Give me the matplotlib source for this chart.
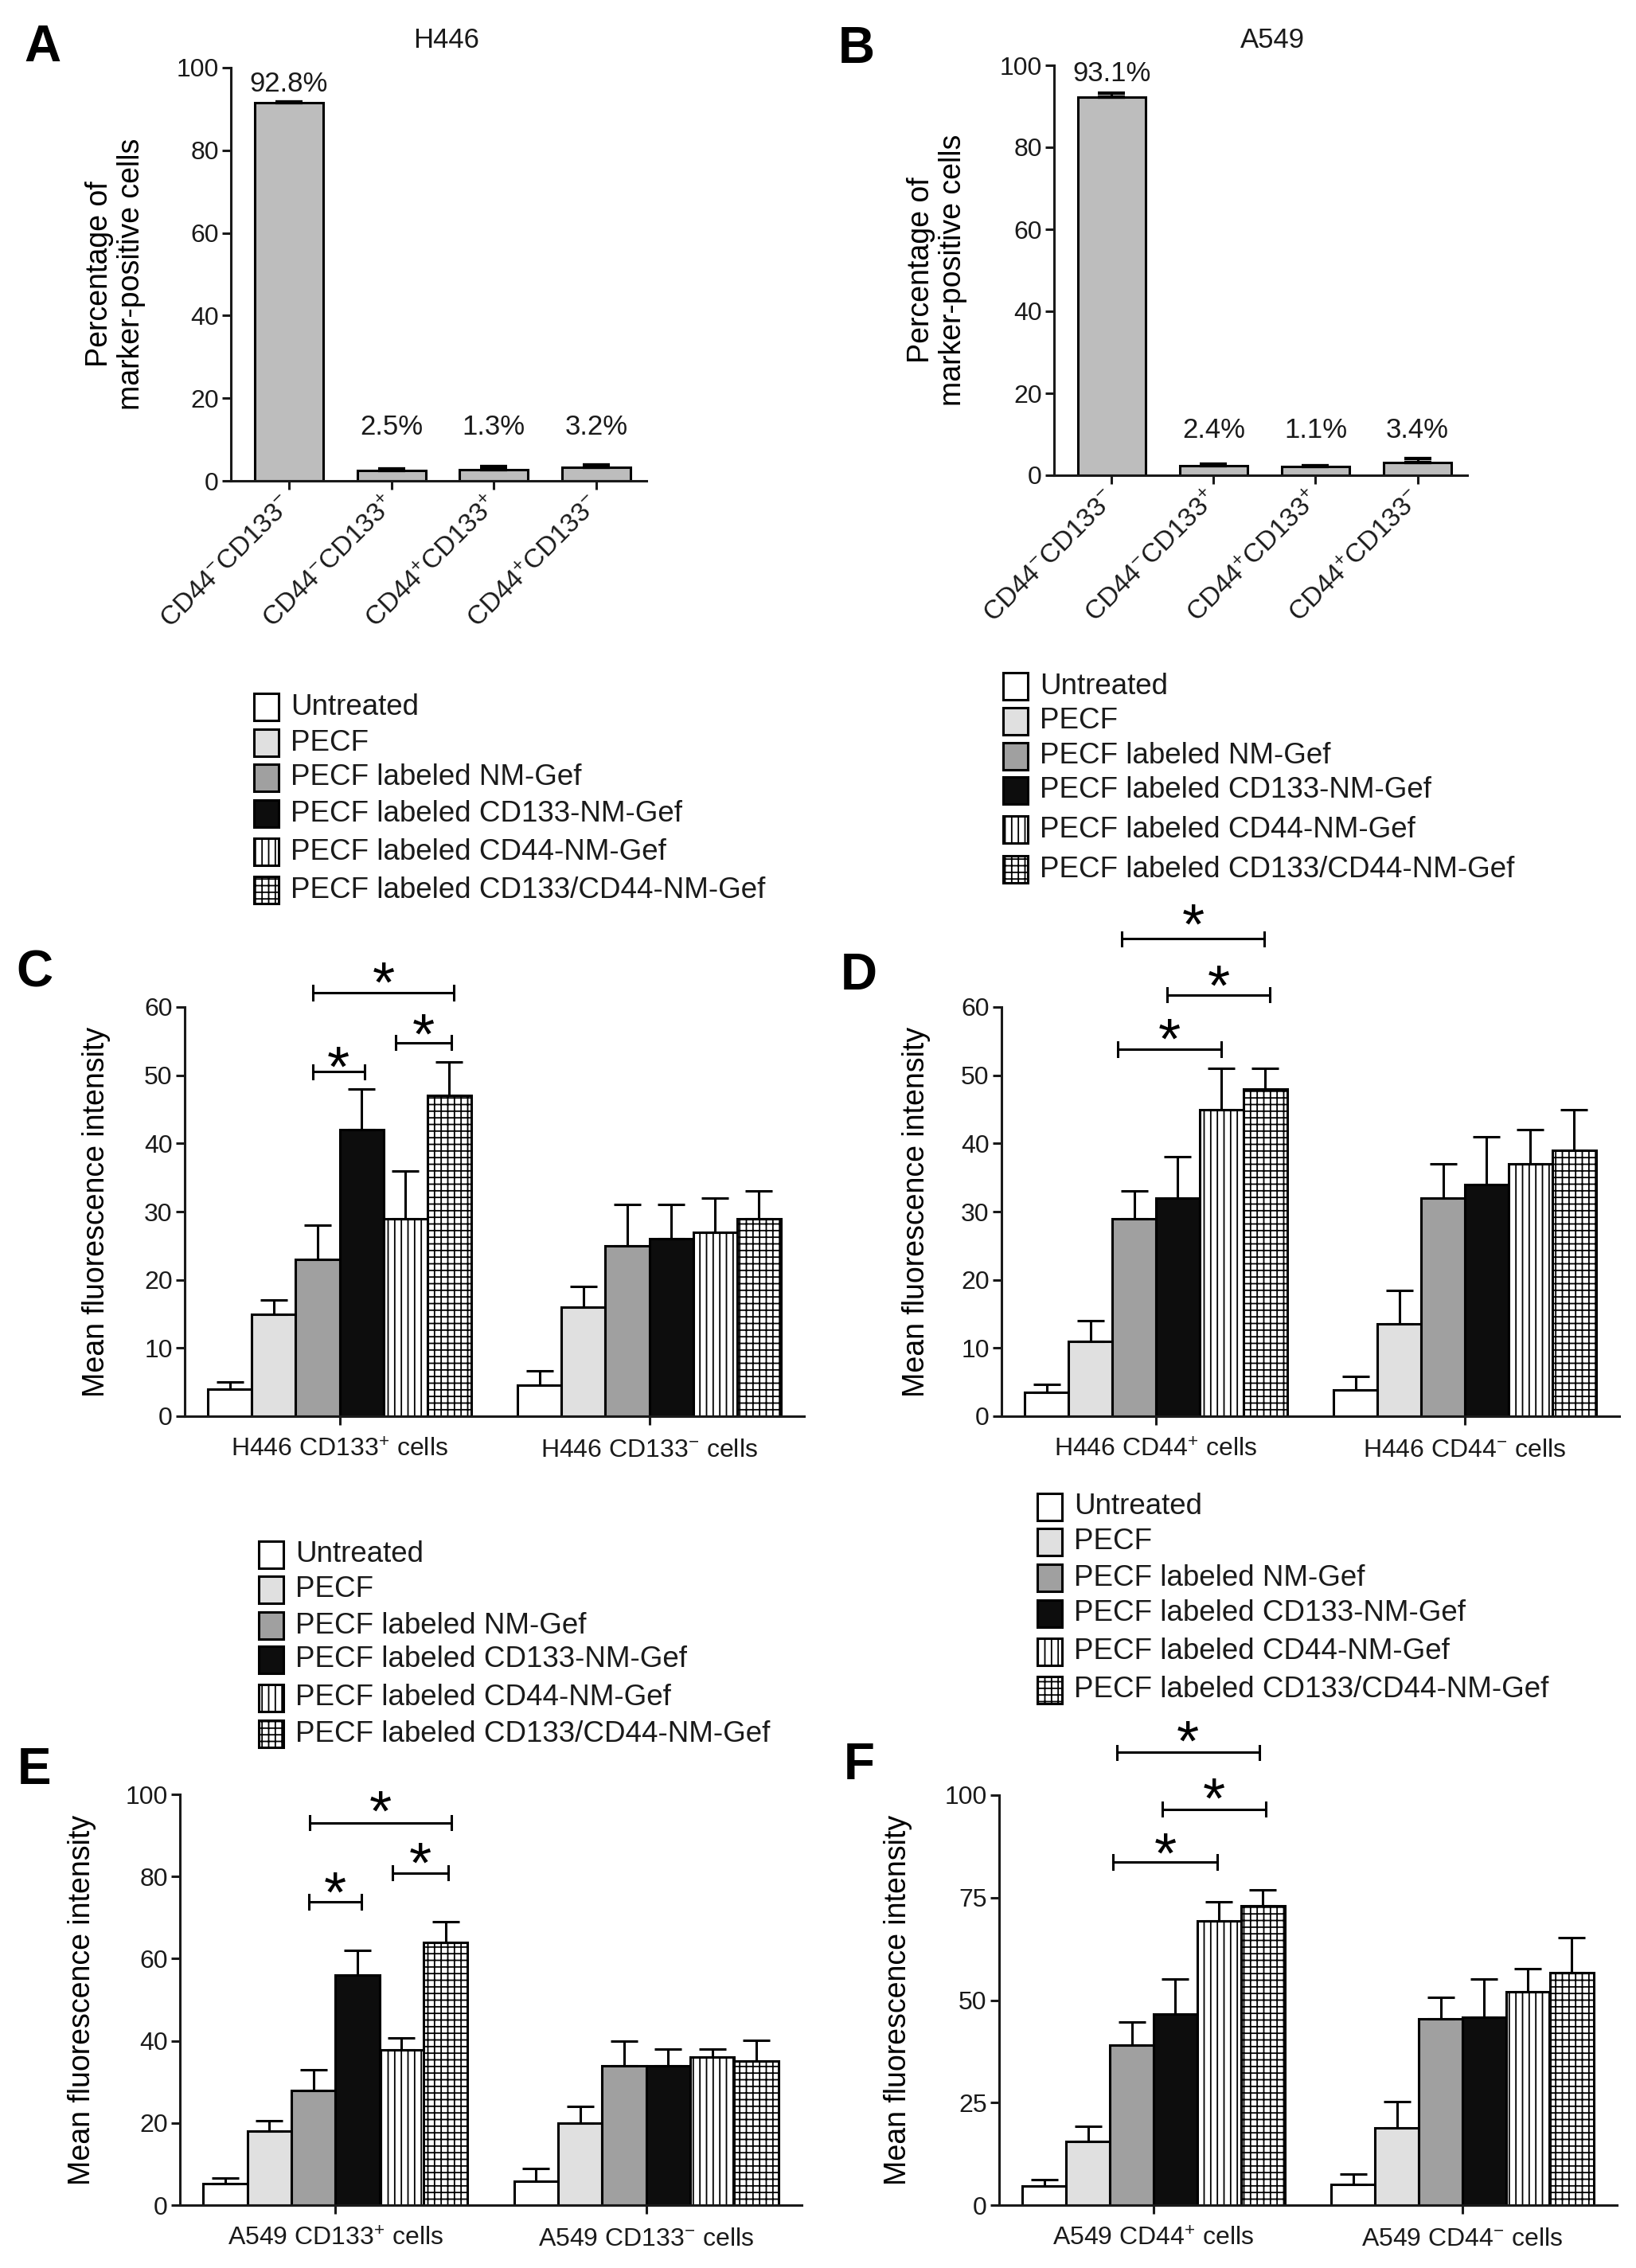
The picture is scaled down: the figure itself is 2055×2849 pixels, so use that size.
import matplotlib
matplotlib.use('Agg')
import matplotlib.pyplot as plt
from matplotlib.patches import Rectangle
import matplotlib.transforms as mtransforms
import numpy as np

# ---------------- data ----------------
marker_categories = [r'CD44$^{-}$CD133$^{-}$', r'CD44$^{-}$CD133$^{+}$',
                     r'CD44$^{+}$CD133$^{+}$', r'CD44$^{+}$CD133$^{-}$']
h446_pct = [91.5, 2.5, 2.7, 3.3]
h446_err = [0.3, 0.3, 0.8, 0.5]
h446_text = ['92.8%', '2.5%', '1.3%', '3.2%']
a549_pct = [92.2, 2.4, 2.1, 3.2]
a549_err = [1.0, 0.4, 0.3, 0.9]
a549_text = ['93.1%', '2.4%', '1.1%', '3.4%']

treatments = ['Untreated', 'PECF', 'PECF labeled NM-Gef', 'PECF labeled CD133-NM-Gef',
              'PECF labeled CD44-NM-Gef', 'PECF labeled CD133/CD44-NM-Gef']

c_groups = [r'H446 CD133$^{+}$ cells', r'H446 CD133$^{-}$ cells']
c_pos_mean = [4.0, 15.0, 23.0, 42.0, 29.0, 47.0]
c_pos_err = [1.0, 2.0, 5.0, 6.0, 7.0, 5.0]
c_neg_mean = [4.5, 16.0, 25.0, 26.0, 27.0, 29.0]
c_neg_err = [2.2, 3.0, 6.0, 5.0, 5.0, 4.0]

d_groups = [r'H446 CD44$^{+}$ cells', r'H446 CD44$^{-}$ cells']
d_pos_mean = [3.5, 11.0, 29.0, 32.0, 45.0, 48.0]
d_pos_err = [1.2, 3.0, 4.0, 6.0, 6.0, 3.0]
d_neg_mean = [3.8, 13.5, 32.0, 34.0, 37.0, 39.0]
d_neg_err = [2.0, 5.0, 5.0, 7.0, 5.0, 6.0]

e_groups = [r'A549 CD133$^{+}$ cells', r'A549 CD133$^{-}$ cells']
e_pos_mean = [5.2, 18.0, 28.0, 56.0, 37.7, 64.0]
e_pos_err = [1.4, 2.6, 5.0, 6.0, 3.0, 5.0]
e_neg_mean = [5.8, 20.0, 34.0, 34.0, 36.0, 35.0]
e_neg_err = [3.1, 4.0, 6.0, 4.0, 2.0, 5.2]

f_groups = [r'A549 CD44$^{+}$ cells', r'A549 CD44$^{-}$ cells']
f_pos_mean = [4.7, 15.6, 39.0, 46.6, 69.4, 73.1]
f_pos_err = [1.6, 3.7, 5.6, 8.6, 4.5, 3.8]
f_neg_mean = [5.1, 18.9, 45.4, 45.9, 52.0, 56.7]
f_neg_err = [2.4, 6.3, 5.2, 9.3, 5.6, 8.6]

# significance brackets: (x_start, x_end, bracket_y, star_y) in data units
c_sig = [(-0.087, 0.370, 62.1, 65.6), (0.180, 0.362, 54.8, 58.0), (-0.087, 0.080, 50.5, 53.3)]
d_sig = [(-0.110, 0.351, 70.0, 74.2), (0.037, 0.369, 61.8, 65.2), (-0.125, 0.212, 53.8, 57.4)]
e_sig = [(-0.082, 0.374, 93.1, 99.3), (0.184, 0.364, 80.9, 86.7), (-0.085, 0.085, 73.8, 79.5)]
f_sig = [(-0.119, 0.342, 110.4, 116.5), (0.029, 0.364, 96.6, 102.5), (-0.132, 0.207, 83.7, 89.2)]

# ---------------- style ----------------
plt.rcParams['font.family'] = ['Liberation Sans', 'DejaVu Sans']
plt.rcParams['mathtext.fontset'] = 'custom'
plt.rcParams['mathtext.rm'] = 'Liberation Sans'
plt.rcParams['mathtext.it'] = 'Liberation Sans:italic'
plt.rcParams['mathtext.bf'] = 'Liberation Sans:bold'
plt.rcParams['hatch.linewidth'] = 1.3
plt.rcParams['text.color'] = '#1a1a1a'

TXT = '#1a1a1a'
LW = 2.2
face = ['#ffffff', '#e0e0e0', '#a0a0a0', '#0d0d0d', '#ffffff', '#ffffff']
hatch = [None, None, None, None, '||', '++']

W, H, DPI = 2055, 2849, 100
fig = plt.figure(figsize=(W / DPI, H / DPI), dpi=DPI)
fig.patch.set_facecolor('white')


def add_axes_px(l, r, t, b):
    return fig.add_axes([l / W, 1 - b / H, (r - l) / W, (b - t) / H])


def style(ax, ymax, yticks):
    for s in ['top', 'right']:
        ax.spines[s].set_visible(False)
    for s in ['left', 'bottom']:
        ax.spines[s].set_linewidth(LW)
        ax.spines[s].set_color(TXT)
    ax.set_ylim(0, ymax)
    ax.set_yticks(yticks)
    ax.tick_params(axis='both', direction='out', length=8, width=LW, colors=TXT,
                   labelsize=23, pad=3)


def panel_letter(x, y, s):
    fig.text(x / W, 1 - y / H, s, fontsize=46, fontweight='bold', ha='center', va='center', color='black')


def marker_panel(ax, vals, errs, texts, text_y, title, title_xy, ylab_x):
    x = np.arange(len(vals))
    ax.bar(x, vals, width=0.667, color='#bdbdbd', edgecolor='black', linewidth=LW, zorder=2)
    ax.errorbar(x, vals, yerr=[np.zeros(len(errs)), errs], fmt='none', ecolor='black',
                elinewidth=LW, capsize=12, capthick=LW * 1.4, zorder=3)
    style(ax, 100, [0, 20, 40, 60, 80, 100])
    ax.set_xlim(-0.564, 3.487)
    ax.set_xticks(x)
    ax.set_xticklabels(marker_categories, rotation=45, ha='right', va='center',
                       rotation_mode='anchor', fontsize=24)
    ax.tick_params(axis='x', pad=10)
    for xi, t, ty in zip(x, texts, text_y):
        ax.text(xi, ty, t, ha='center', va='center', fontsize=25, clip_on=False)
    ax.set_ylabel('Percentage of\nmarker-positive cells', fontsize=27, linespacing=1.15)
    ax.yaxis.set_label_coords(ylab_x, 0.5)
    fig.text(title_xy[0] / W, 1 - title_xy[1] / H, title, fontsize=25, ha='center', va='center')


def group_panel(ax, pos_m, pos_e, neg_m, neg_e, groups, ymax, yticks, sig, ylab_x):
    bw = 0.1417
    for i in range(6):
        xs = np.array([0, 1]) + (i - 2.5) * bw
        vals = [pos_m[i], neg_m[i]]
        errs = [pos_e[i], neg_e[i]]
        ax.bar(xs, vals, width=bw, color=face[i], edgecolor='black', linewidth=LW,
               hatch=hatch[i], zorder=2)
        ax.errorbar(xs, vals, yerr=[[0, 0], errs], fmt='none', ecolor='black',
                    elinewidth=LW, capsize=12, capthick=LW, zorder=3)
    style(ax, ymax, yticks)
    ax.set_xlim(-0.5, 1.5)
    ax.set_xticks([0, 1])
    ax.set_xticklabels(groups, fontsize=23)
    ax.tick_params(axis='x', pad=12)
    ax.set_ylabel('Mean fluorescence intensity', fontsize=27)
    ax.yaxis.set_label_coords(ylab_x, 0.5)
    h = 0.017 * ymax
    fs = 52
    star_tr = mtransforms.offset_copy(ax.transData, fig=fig, x=0, y=-0.58 * fs, units='points')
    for x1, x2, y, ys in sig:
        ax.plot([x1, x2], [y, y], color='black', lw=LW, clip_on=False, solid_capstyle='butt')
        ax.plot([x1, x1], [y - h, y + h], color='black', lw=LW, clip_on=False)
        ax.plot([x2, x2], [y - h, y + h], color='black', lw=LW, clip_on=False)
        ax.text((x1 + x2) / 2, ys, '*', fontsize=fs, ha='center', va='baseline',
                transform=star_tr, clip_on=False, color='black')


def legend_block(box_x, text_x, rows_y):
    bw, bh = 31, 34
    for i, (lab, yy) in enumerate(zip(treatments, rows_y)):
        r = Rectangle(((box_x) / W, 1 - (yy + bh / 2) / H), bw / W, bh / H,
                      transform=fig.transFigure, facecolor=face[i], edgecolor='black',
                      linewidth=LW, hatch=hatch[i])
        fig.patches.append(r)
        fig.text(text_x / W, 1 - yy / H, lab, fontsize=26.5, ha='left', va='center')


# ---------------- panels ----------------
axA = add_axes_px(290, 812, 85, 604)
marker_panel(axA, h446_pct, h446_err, h446_text, [96.1, 13.1, 13.1, 13.1], 'H446', (561, 50), -0.205)
panel_letter(53, 60, 'A')

axB = add_axes_px(1324, 1843, 82, 597)
marker_panel(axB, a549_pct, a549_err, a549_text, [98.0, 10.9, 10.9, 10.9], 'A549', (1598, 51), -0.21)
panel_letter(1076, 62, 'B')

legend_block(319, 365, [888, 933, 977, 1022, 1070, 1118])
legend_block(1260, 1306, [862, 906, 950, 993, 1042, 1092])

axC = add_axes_px(232, 1010, 1265, 1779)
group_panel(axC, c_pos_mean, c_pos_err, c_neg_mean, c_neg_err, c_groups, 60,
            [0, 10, 20, 30, 40, 50, 60], c_sig, -0.12)
panel_letter(43, 1223, 'C')

axD = add_axes_px(1258, 2034, 1265, 1779)
group_panel(axD, d_pos_mean, d_pos_err, d_neg_mean, d_neg_err, d_groups, 60,
            [0, 10, 20, 30, 40, 50, 60], d_sig, -0.115)
panel_letter(1079, 1226, 'D')

legend_block(325, 371, [1953, 1997, 2042, 2085, 2133, 2178])
legend_block(1303, 1349, [1893, 1937, 1982, 2027, 2075, 2123])

axE = add_axes_px(226, 1007, 2254, 2770)
group_panel(axE, e_pos_mean, e_pos_err, e_neg_mean, e_neg_err, e_groups, 100,
            [0, 20, 40, 60, 80, 100], e_sig, -0.135)
panel_letter(43, 2224, 'E')

axF = add_axes_px(1255, 2031, 2255, 2770)
group_panel(axF, f_pos_mean, f_pos_err, f_neg_mean, f_neg_err, f_groups, 100,
            [0, 25, 50, 75, 100], f_sig, -0.14)
panel_letter(1079, 2218, 'F')

fig.savefig('out.png', dpi=DPI, facecolor='white')
